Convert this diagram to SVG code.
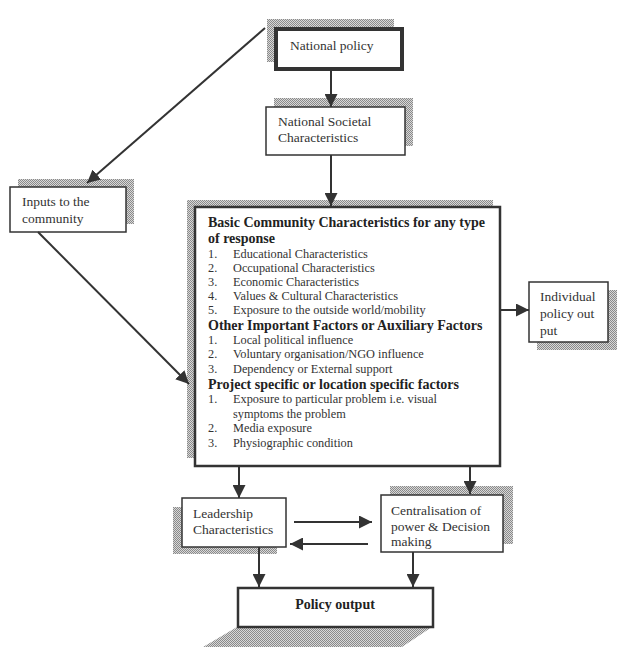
<svg xmlns="http://www.w3.org/2000/svg" width="626" height="652" viewBox="0 0 626 652">
<defs>
<pattern id="ht" width="2" height="2" patternUnits="userSpaceOnUse">
<rect width="2" height="2" fill="#d8d8d8"/>
<rect width="1" height="1" fill="#8a8a8a"/>
<rect x="1" y="1" width="1" height="1" fill="#8a8a8a"/>
</pattern>
<marker id="ah" viewBox="0 0 10 10" refX="10" refY="5" markerWidth="13" markerHeight="13" markerUnits="userSpaceOnUse" orient="auto">
<path d="M0,0 L10,5 L0,10 z" fill="#333"/>
</marker>
</defs>
<style>
.shadow{fill:url(#ht)}
.box{fill:#fff;stroke:#333;stroke-width:1.5}
.t{font-family:"Liberation Serif","Times New Roman",serif;font-size:13.5px;fill:#333}
.s{font-family:"Liberation Serif","Times New Roman",serif;font-size:12.3px;fill:#333}
.b{font-family:"Liberation Serif","Times New Roman",serif;font-size:14px;font-weight:bold;fill:#222}
.c{stroke:#333;stroke-width:2;fill:none;marker-end:url(#ah)}
</style>
<rect width="626" height="652" fill="#fff"/>

<g id="national-policy">
<rect class="shadow" x="267" y="19" width="127" height="43"/>
<rect x="276" y="29" width="126" height="40" fill="#fff" stroke="#333" stroke-width="4"/>
<text class="t" x="290" y="50">National policy</text>
</g>

<g id="national-societal">
<rect class="shadow" x="274" y="98" width="139" height="48"/>
<rect class="box" x="266" y="107" width="139" height="48"/>
<text class="t" x="278" y="126">National Societal</text>
<text class="t" x="278" y="142">Characteristics</text>
</g>

<g id="inputs">
<rect class="shadow" x="18" y="179" width="116" height="45"/>
<rect class="box" x="10" y="187" width="116" height="45"/>
<text class="t" x="22" y="206">Inputs to the</text>
<text class="t" x="22" y="223">community</text>
</g>

<g id="basic-community">
<rect class="shadow" x="187" y="200" width="306" height="258"/>
<rect x="195" y="207" width="305" height="259" fill="#fff" stroke="#333" stroke-width="2.5"/>
<text class="b" x="208" y="227">Basic Community Characteristics for any type</text>
<text class="b" x="208" y="243">of response</text>
<text class="s" x="208" y="258">1.</text><text class="s" x="233" y="258">Educational Characteristics</text>
<text class="s" x="208" y="272">2.</text><text class="s" x="233" y="272">Occupational Characteristics</text>
<text class="s" x="208" y="286">3.</text><text class="s" x="233" y="286">Economic Characteristics</text>
<text class="s" x="208" y="300">4.</text><text class="s" x="233" y="300">Values &amp; Cultural Characteristics</text>
<text class="s" x="208" y="314">5.</text><text class="s" x="233" y="314">Exposure to the outside world/mobility</text>
<text class="b" x="208" y="330">Other Important Factors or Auxiliary Factors</text>
<text class="s" x="208" y="344">1.</text><text class="s" x="233" y="344">Local political influence</text>
<text class="s" x="208" y="358">2.</text><text class="s" x="233" y="358">Voluntary organisation/NGO influence</text>
<text class="s" x="208" y="373">3.</text><text class="s" x="233" y="373">Dependency or External support</text>
<text class="b" x="208" y="389">Project specific or location specific factors</text>
<text class="s" x="208" y="403">1.</text><text class="s" x="233" y="403">Exposure to particular problem i.e. visual</text>
<text class="s" x="233" y="418">symptoms the problem</text>
<text class="s" x="208" y="432">2.</text><text class="s" x="233" y="432">Media exposure</text>
<text class="s" x="208" y="447">3.</text><text class="s" x="233" y="447">Physiographic condition</text>
</g>

<g id="individual">
<rect class="shadow" x="537" y="290" width="80" height="60"/>
<rect class="box" x="529" y="282" width="79" height="60"/>
<text class="t" x="540" y="301">Individual</text>
<text class="t" x="540" y="318">policy out</text>
<text class="t" x="540" y="335">put</text>
</g>

<g id="leadership">
<rect class="shadow" x="173" y="507" width="104" height="47"/>
<rect class="box" x="182" y="498" width="104" height="49"/>
<text class="t" x="193" y="518">Leadership</text>
<text class="t" x="193" y="534">Characteristics</text>
</g>

<g id="centralisation">
<rect class="shadow" x="390" y="486" width="123" height="58"/>
<rect class="box" x="381" y="495" width="122" height="57"/>
<text class="t" x="391" y="515">Centralisation of</text>
<text class="t" x="391" y="531">power &amp; Decision</text>
<text class="t" x="391" y="546">making</text>
</g>

<g id="policy-output">
<polygon class="shadow" points="237,627 432,627 402,647 203,647"/>
<rect x="238" y="588" width="195" height="39" fill="#fff" stroke="#333" stroke-width="2.5"/>
<text class="b" x="335" y="609" text-anchor="middle" font-size="15">Policy output</text>
</g>

<g id="connectors">
<line class="c" x1="331" y1="71" x2="331" y2="107"/>
<line class="c" x1="331" y1="155" x2="331" y2="206"/>
<line class="c" x1="265" y1="28" x2="87" y2="183"/>
<line class="c" x1="38" y1="232" x2="189" y2="384"/>
<line class="c" x1="500" y1="310" x2="529" y2="310"/>
<line class="c" x1="239" y1="466" x2="239" y2="498"/>
<line class="c" x1="470" y1="466" x2="470" y2="494"/>
<line class="c" x1="294" y1="522" x2="372" y2="522"/>
<line class="c" x1="368" y1="544" x2="290" y2="544"/>
<line class="c" x1="259" y1="547" x2="259" y2="587"/>
<line class="c" x1="413" y1="552" x2="413" y2="587"/>
</g>
</svg>
